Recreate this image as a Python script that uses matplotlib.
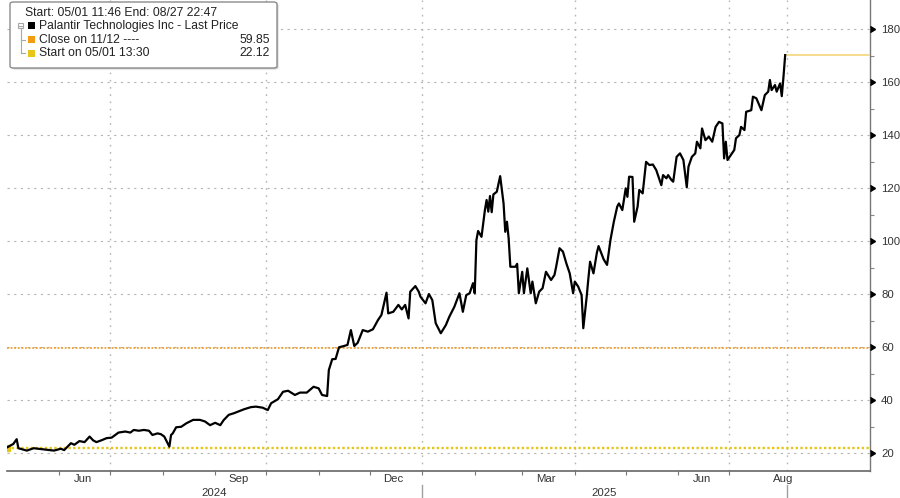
import numpy as np
import pandas as pd
import matplotlib
matplotlib.use("Agg")
import matplotlib.pyplot as plt
from matplotlib.patches import FancyBboxPatch, Rectangle
from matplotlib.lines import Line2D

plt.rcParams['font.family'] = ['Liberation Sans', 'DejaVu Sans']

# Palantir last price
dates = [
    "2024-05-01", "2024-05-05", "2024-05-07", "2024-05-08", "2024-05-13", "2024-05-17",
    "2024-05-21", "2024-05-26", "2024-05-29",
    "2024-06-02", "2024-06-04", "2024-06-08", "2024-06-10", "2024-06-13", "2024-06-16",
    "2024-06-19", "2024-06-21", "2024-06-23", "2024-06-26", "2024-06-29",
    "2024-07-02", "2024-07-06", "2024-07-10", "2024-07-13", "2024-07-15", "2024-07-18",
    "2024-07-21", "2024-07-24", "2024-07-26", "2024-07-29", "2024-07-31",
    "2024-08-02", "2024-08-05", "2024-08-06", "2024-08-07", "2024-08-09", "2024-08-12",
    "2024-08-15", "2024-08-19", "2024-08-23", "2024-08-26", "2024-08-29",
    "2024-09-01", "2024-09-04", "2024-09-06", "2024-09-09", "2024-09-12", "2024-09-18",
    "2024-09-22", "2024-09-25", "2024-09-29",
    "2024-10-02", "2024-10-04", "2024-10-08", "2024-10-11", "2024-10-14", "2024-10-18",
    "2024-10-21", "2024-10-25", "2024-10-29",
    "2024-11-01", "2024-11-03", "2024-11-06", "2024-11-07", "2024-11-09", "2024-11-11",
    "2024-11-13", "2024-11-16", "2024-11-18", "2024-11-20", "2024-11-22", "2024-11-24",
    "2024-11-27", "2024-11-30",
    "2024-12-03", "2024-12-06", "2024-12-08", "2024-12-11", "2024-12-12", "2024-12-15",
    "2024-12-18", "2024-12-20", "2024-12-22", "2024-12-24", "2024-12-25", "2024-12-28",
    "2024-12-30", "2024-12-31",
    "2025-01-03", "2025-01-05", "2025-01-07", "2025-01-09", "2025-01-12", "2025-01-15",
    "2025-01-17", "2025-01-20", "2025-01-23", "2025-01-25", "2025-01-27", "2025-01-29",
    "2025-01-31",
    "2025-02-01", "2025-02-02", "2025-02-03", "2025-02-05", "2025-02-07", "2025-02-08",
    "2025-02-09", "2025-02-10", "2025-02-11", "2025-02-12", "2025-02-14", "2025-02-16",
    "2025-02-18", "2025-02-19", "2025-02-20", "2025-02-21", "2025-02-22", "2025-02-25",
    "2025-02-26", "2025-02-27",
    "2025-03-01", "2025-03-02", "2025-03-04", "2025-03-06", "2025-03-07", "2025-03-09",
    "2025-03-11", "2025-03-13", "2025-03-15", "2025-03-18", "2025-03-20", "2025-03-21",
    "2025-03-23", "2025-03-25", "2025-03-27", "2025-03-29", "2025-03-31",
    "2025-04-01", "2025-04-03", "2025-04-05", "2025-04-06", "2025-04-08", "2025-04-09",
    "2025-04-10", "2025-04-12", "2025-04-14", "2025-04-15", "2025-04-18", "2025-04-20",
    "2025-04-22", "2025-04-24", "2025-04-26", "2025-04-27", "2025-04-29",
    "2025-05-01", "2025-05-02", "2025-05-03", "2025-05-05", "2025-05-06", "2025-05-08",
    "2025-05-09", "2025-05-11", "2025-05-13", "2025-05-15", "2025-05-17", "2025-05-19",
    "2025-05-20", "2025-05-22", "2025-05-23", "2025-05-25", "2025-05-26", "2025-05-28",
    "2025-05-29", "2025-05-31",
    "2025-06-02", "2025-06-04", "2025-06-06", "2025-06-07", "2025-06-09", "2025-06-11",
    "2025-06-12", "2025-06-14", "2025-06-15", "2025-06-17", "2025-06-19", "2025-06-21",
    "2025-06-23", "2025-06-25", "2025-06-27", "2025-06-28", "2025-06-29", "2025-06-30",
    "2025-07-02", "2025-07-04", "2025-07-05", "2025-07-07", "2025-07-08", "2025-07-10",
    "2025-07-11", "2025-07-14", "2025-07-15", "2025-07-17", "2025-07-20", "2025-07-22",
    "2025-07-24", "2025-07-25", "2025-07-26", "2025-07-28", "2025-07-29", "2025-07-31",
    "2025-08-01", "2025-08-02", "2025-08-03",
]
prices = [
    22.1, 23.5, 25.3, 21.9, 21.0, 21.9, 21.6, 21.2, 21.0,
    21.7, 21.2, 23.8, 23.2, 24.6, 24.2, 26.3, 24.9, 24.2, 24.9, 25.7,
    25.9, 27.8, 28.2, 27.8, 28.8, 28.5, 28.8, 28.5, 26.9, 27.5, 27.2,
    26.3, 22.5, 26.9, 27.5, 29.8, 30.0, 31.3, 32.6, 32.6, 32.0, 30.6,
    31.5, 30.6, 32.5, 34.5, 35.1, 36.6, 37.4, 37.6, 37.2,
    36.3, 38.9, 40.4, 43.2, 43.6, 42.0, 42.9, 42.9, 45.1,
    44.5, 42.0, 41.6, 51.4, 55.5, 55.6, 60.0, 60.5, 60.9, 66.5, 60.5, 61.7, 66.5, 65.9,
    66.8, 70.3, 72.2, 80.6, 72.8, 73.4, 76.0, 74.3, 76.0, 70.9, 81.0, 83.1, 81.0, 79.1,
    76.6, 80.1, 77.8, 69.1, 65.3, 68.4, 71.5, 75.3, 80.4, 73.4, 79.7, 80.4, 84.2,
    80.4, 100.5, 103.9, 101.7, 111.8, 115.6, 111.2, 117.1, 111.0, 117.7, 118.7, 124.6,
    114.3, 103.6, 107.4, 101.1, 90.4, 90.4, 91.5, 80.4,
    88.5, 80.4, 89.8, 80.4, 84.8, 76.6, 81.0, 82.3, 88.5, 85.4, 87.3, 90.4,
    97.4, 96.1, 91.7, 87.9, 80.4,
    84.8, 82.9, 79.7, 67.2, 79.1, 86.0, 92.3, 87.9, 95.7, 98.2, 93.2, 91.1,
    100.5, 107.4, 113.1, 114.3, 111.8,
    120.0, 116.8, 124.4, 124.3, 107.4, 113.1, 119.4, 118.1, 130.0, 128.8, 129.0, 126.9,
    125.0, 121.2, 125.0, 123.8, 125.0, 123.1, 122.5, 131.9,
    133.2, 130.7, 120.4, 128.2, 131.9, 133.2, 137.6, 135.1, 142.6, 138.2, 139.5, 137.6,
    143.2, 145.1, 144.5, 131.3, 137.6, 130.7,
    132.6, 134.5, 138.9, 140.1, 143.2, 142.0, 148.9, 149.5, 154.6, 154.0, 149.5, 155.2,
    156.5, 160.9, 157.1, 159.0, 156.5, 159.6,
    154.8, 162.1, 170.3,
]

close_ref = 59.85   # Close on 11/12
start_ref = 22.12   # Start on 05/01 13:30

header = "Start: 05/01 11:46 End: 08/27 22:47"
legend_labels = ["Palantir Technologies Inc - Last Price", "Close on 11/12 ----", "Start on 05/01 13:30"]
legend_values = ["", "59.85", "22.12"]

y_major = [20, 40, 60, 80, 100, 120, 140, 160, 180]
y_minor = [30, 50, 70, 90, 110, 130, 150, 170]
month_labels = ["Jun", "Sep", "Dec", "Mar", "Jun", "Aug"]
month_label_dates = ["2024-06-15", "2024-09-15", "2024-12-15", "2025-03-15", "2025-06-15", "2025-08-02"]
month_starts = pd.date_range("2024-06-01", "2025-07-01", freq="MS")
grid_dates = ["2024-07-01", "2024-10-01", "2025-01-01", "2025-04-01", "2025-07-01", "2025-08-04"]
x_start, x_end = "2024-05-01", "2025-09-22"
year_bounds = ["2024-05-01", "2025-01-01", "2025-08-04"]
years = ["2024", "2025"]

W, H = 900, 498
fig = plt.figure(figsize=(W / 100, H / 100), dpi=100)
ax = fig.add_axes([6.5 / W, 27 / H, (870 - 6.5) / W, 471 / H])

t = pd.to_datetime(dates)
ax.plot(t, prices, color="black", lw=1.6, zorder=5)
ax.plot(t[:1], prices[:1], marker="s", ms=4, color="#e6c619", zorder=4)

ax.axhline(close_ref, color="#f0a030", lw=1.3, ls=(0, (1, 1)), zorder=3)
ax.axhline(start_ref, color="#e6c619", lw=1.7, ls=(0, (1, 1)), zorder=3)
ax.hlines(prices[-1], t[-1], pd.Timestamp(x_end), color="#f3d67a", lw=1.2, zorder=3)

ax.set_xlim(pd.Timestamp(x_start), pd.Timestamp(x_end))
ax.set_ylim(13.3, 191.1)

# grid
ax.set_yticks(y_major)
ax.set_yticks(y_minor, minor=True)
ax.grid(axis="y", which="major", color="#b4b4b4", lw=0.8, ls=(0, (2, 4)), zorder=1)
for d in grid_dates:
    ax.axvline(pd.Timestamp(d), color="#b4b4b4", lw=1.0, ls=(0, (1.2, 4)), zorder=1)

# y axis on the right with caret ticks
ax.yaxis.tick_right()
ax.tick_params(axis="y", which="major", length=0, pad=8, labelsize=8.2, labelcolor="#333333")
ax.tick_params(axis="y", which="minor", length=3, width=0.8, color="#888888")
ax.plot([1] * len(y_major), y_major, transform=ax.get_yaxis_transform(), marker=9,
        ms=5, color="black", ls="none", clip_on=False, zorder=6)

# x axis
ax.set_xticks(pd.to_datetime(month_label_dates))
ax.set_xticklabels(month_labels)
ax.set_xticks(month_starts, minor=True)
ax.tick_params(axis="x", which="major", length=0, pad=2.5, labelsize=8.2, labelcolor="#333333")
ax.tick_params(axis="x", which="minor", length=3, width=0.8, color="#777777")

xt = ax.get_xaxis_transform()
yb = pd.to_datetime(year_bounds)
for i, yr in enumerate(years):
    mid = yb[i] + (yb[i + 1] - yb[i]) / 2
    ax.text(mid, -0.046, yr, transform=xt, ha="center", va="center", fontsize=8.2, color="#333333")
for d in yb[1:]:
    ax.plot([d, d], [-0.03, -0.06], transform=xt, color="#a0a0a0", lw=1, clip_on=False)

for s in ["top", "left"]:
    ax.spines[s].set_visible(False)
ax.spines["bottom"].set_color("#666666")
ax.spines["bottom"].set_linewidth(1.2)
ax.spines["right"].set_color("#777777")
ax.spines["right"].set_linewidth(1.0)


# legend box (figure pixel coords)
def fx(px):
    return px / W


def fy(py):
    return 1 - py / H


shadow = FancyBboxPatch((fx(11.5), fy(69.5)), (277 - 10) / W, 66 / H,
                        boxstyle="round,pad=0,rounding_size=0.004", transform=fig.transFigure,
                        facecolor="#d0d0d0", edgecolor="none", zorder=9)
box = FancyBboxPatch((fx(10), fy(68)), (277 - 10) / W, 66 / H,
                     boxstyle="round,pad=0,rounding_size=0.004", transform=fig.transFigure,
                     facecolor="white", edgecolor="#8c8c8c", lw=1, zorder=10)
fig.add_artist(shadow)
fig.add_artist(box)

fs = 8.7
fig.text(fx(25), fy(13), header, fontsize=fs, color="#222222", va="center", zorder=11)
rows = [26, 40, 53.5]
sq_colors = ["black", "#f39c12", "#e6c619"]
for r, lab, val, c in zip(rows, legend_labels, legend_values, sq_colors):
    fig.add_artist(Rectangle((fx(28), fy(r + 3.5)), 7 / W, 7 / H, transform=fig.transFigure,
                             facecolor=c, edgecolor="none", zorder=11))
    fig.text(fx(39), fy(r), lab, fontsize=fs, color="#222222", va="center", zorder=11)
    if val:
        fig.text(fx(270), fy(r), val, fontsize=fs, color="#222222", va="center", ha="right", zorder=11)

tree = "#a8a8a8"
fig.add_artist(Rectangle((fx(18), fy(28.5)), 5 / W, 5 / H, transform=fig.transFigure,
                         facecolor="white", edgecolor=tree, lw=0.8, zorder=11))
fig.add_artist(Line2D([fx(19), fx(22)], [fy(26), fy(26)], transform=fig.transFigure, color=tree, lw=0.8, zorder=11))
fig.add_artist(Line2D([fx(20.5), fx(20.5)], [fy(28.5), fy(53.5)], transform=fig.transFigure, color=tree, lw=0.8, zorder=11))
fig.add_artist(Line2D([fx(20.5), fx(25)], [fy(40), fy(40)], transform=fig.transFigure, color=tree, lw=0.8, zorder=11))
fig.add_artist(Line2D([fx(20.5), fx(25)], [fy(53.5), fy(53.5)], transform=fig.transFigure, color=tree, lw=0.8, zorder=11))

fig.savefig("out.png", dpi=100)
